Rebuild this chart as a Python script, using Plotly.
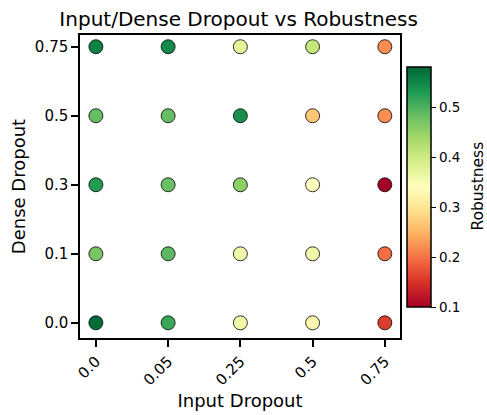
import plotly.graph_objects as go

input_dropout = ["0.0", "0.05", "0.25", "0.5", "0.75"]
dense_dropout = ["0.0", "0.1", "0.3", "0.5", "0.75"]
# robustness[row for dense dropout][col for input dropout]
robustness = [
    [0.575, 0.513, 0.360, 0.326, 0.158],   # dense 0.0
    [0.470, 0.490, 0.360, 0.360, 0.196],   # dense 0.1
    [0.527, 0.480, 0.455, 0.340, 0.100],   # dense 0.3
    [0.484, 0.484, 0.540, 0.268, 0.220],   # dense 0.5
    [0.556, 0.546, 0.374, 0.407, 0.220],   # dense 0.75
]

xs, ys, cs = [], [], []
for i, d in enumerate(dense_dropout):
    for j, inp in enumerate(input_dropout):
        xs.append(inp)
        ys.append(d)
        cs.append(robustness[i][j])

font = "DejaVu Sans"
fig = go.Figure(go.Scatter(
    x=xs, y=ys, mode="markers",
    marker=dict(
        size=14, color=cs, colorscale="RdYlGn", cmin=0.1, cmax=0.58,
        line=dict(color="black", width=0.8),
        colorbar=dict(
            tickvals=[0.1, 0.2, 0.3, 0.4, 0.5],
            ticktext=["0.1", "0.2", "0.3", "0.4", "0.5"],
            ticks="outside", ticklen=5, tickwidth=1.2, tickcolor="black",
            tickfont=dict(size=13.5, family=font, color="black"),
            outlinecolor="black", outlinewidth=1.5,
            thickness=24, len=240, lenmode="pixels",
            x=1.022, xanchor="left", y=0.498, yanchor="middle",
            xpad=0, ypad=0,
        ),
    ),
    showlegend=False,
))

fig.update_layout(
    width=487, height=415,
    margin=dict(l=80, r=87, t=35, b=77, autoexpand=False),
    plot_bgcolor="white", paper_bgcolor="white",
    title=dict(text="Input/Dense Dropout vs Robustness", x=0.49, xanchor="center",
               y=0.955, yanchor="middle", font=dict(size=20, family=font, color="black")),
    font=dict(family=font, color="black"),
    annotations=[dict(
        text="Robustness", textangle=-90, showarrow=False,
        xref="paper", yref="paper", x=1.241, y=0.5,
        xanchor="center", yanchor="middle",
        font=dict(size=15.5, family=font, color="black"),
    )],
)
fig.update_xaxes(
    type="category", categoryorder="array", categoryarray=input_dropout,
    range=[-0.22, 4.21], showgrid=False, zeroline=False,
    showline=True, linecolor="black", linewidth=1.5, mirror=True,
    ticks="outside", ticklen=7, tickwidth=1.5, tickcolor="black",
    tickangle=-45, tickfont=dict(size=15, family=font, color="black"),
    title=dict(text="Input Dropout", font=dict(size=18, family=font, color="black"), standoff=6),
)
fig.update_yaxes(
    type="category", categoryorder="array", categoryarray=dense_dropout,
    range=[-0.22, 4.17], showgrid=False, zeroline=False,
    showline=True, linecolor="black", linewidth=1.5, mirror=True,
    ticks="outside", ticklen=7, tickwidth=1.5, tickcolor="black",
    tickfont=dict(size=15, family=font, color="black"),
    title=dict(text="Dense Dropout", font=dict(size=18, family=font, color="black"), standoff=5),
)

fig.write_html("out.html")
